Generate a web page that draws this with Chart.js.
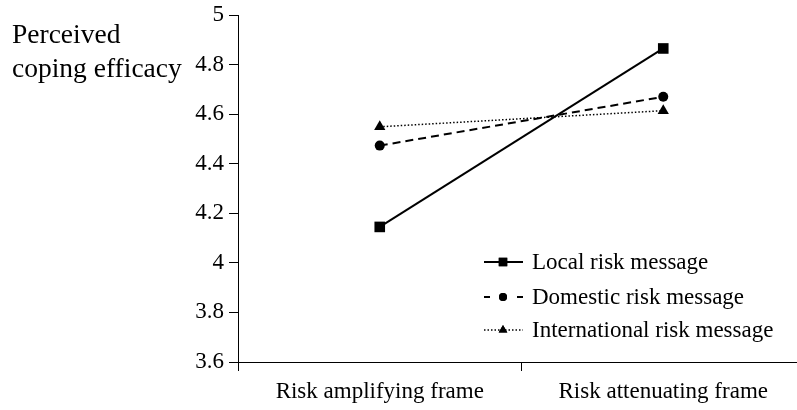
<!DOCTYPE html>
<html>
<head>
<meta charset="utf-8">
<script src="https://cdn.jsdelivr.net/npm/chart.js@4/dist/chart.umd.min.js"></script>
<style>
  html, body { margin: 0; padding: 0; background: #fff; overflow: hidden; }
  #wrap { width: 805px; height: 410px; position: relative; }
  canvas { width: 805px; height: 410px; }
</style>
</head>
<body>
<div id="wrap"><canvas id="c" width="805" height="410"></canvas></div>
<script>
// ---- Data ----
const categories = ['Risk amplifying frame', 'Risk attenuating frame'];
const seriesNames = ['Local risk message', 'Domestic risk message', 'International risk message'];
const localRisk = [4.145, 4.865];
const domesticRisk = [4.473, 4.670];
const internationalRisk = [4.549, 4.614];
const yMin = 3.6, yMax = 5, yStep = 0.2;
const yAxisTitle = ['Perceived', 'coping efficacy'];

const FONT = '"Liberation Serif", "Times New Roman", serif';

const styles = [
  { dash: [], width: 2, point: 'rect', radius: 7.5 },
  { dash: [8, 5], width: 2, point: 'circle', radius: 5 },
  { dash: [1.5, 2], width: 1.5, point: 'triangle', radius: 6.5 }
];
const seriesData = [localRisk, domesticRisk, internationalRisk];

const datasets = seriesData.map((d, i) => ({
  label: seriesNames[i],
  data: d,
  borderColor: '#000',
  backgroundColor: '#000',
  borderWidth: styles[i].width,
  borderDash: styles[i].dash,
  pointStyle: styles[i].point,
  pointRadius: styles[i].radius,
  pointHoverRadius: styles[i].radius,
  pointBackgroundColor: '#000',
  pointBorderColor: '#000',
  pointBorderWidth: 0,
  tension: 0,
  fill: false,
  clip: false
}));

const titlePlugin = {
  id: 'yTitle',
  afterDraw(chart) {
    const ctx = chart.ctx;
    ctx.save();
    ctx.fillStyle = '#000';
    ctx.font = '27.5px ' + FONT;
    ctx.textAlign = 'left';
    ctx.textBaseline = 'alphabetic';
    ctx.fillText(yAxisTitle[0], 12, 43);
    ctx.fillText(yAxisTitle[1], 12, 77);
    ctx.restore();
  }
};

const legendPlugin = {
  id: 'customLegend',
  afterDraw(chart) {
    const ctx = chart.ctx;
    const rows = [262, 297, 330];
    const x0 = 484, x1 = 523, xm = 503, tx = 532;
    chart.data.datasets.forEach((ds, i) => {
      const y = rows[i];
      ctx.save();
      ctx.strokeStyle = '#000';
      ctx.lineWidth = styles[i].width;
      if (i === 1) {
        ctx.setLineDash([]);
        ctx.beginPath();
        ctx.moveTo(x0, y); ctx.lineTo(x0 + 6, y);
        ctx.moveTo(x1 - 6, y); ctx.lineTo(x1, y);
        ctx.stroke();
      } else {
        ctx.setLineDash(styles[i].dash);
        ctx.beginPath();
        ctx.moveTo(x0, y); ctx.lineTo(x1, y);
        ctx.stroke();
      }
      ctx.setLineDash([]);
      ctx.fillStyle = '#000';
      const r = [6, 4, 5][i];
      Chart.helpers.drawPoint(ctx, { pointStyle: styles[i].point, radius: r, borderWidth: 0, rotation: 0 }, xm, y);
      ctx.fill();
      ctx.font = '23px ' + FONT;
      ctx.textAlign = 'left';
      ctx.textBaseline = 'middle';
      ctx.fillText(ds.label, tx, y + 1);
      ctx.restore();
    });
  }
};

new Chart(document.getElementById('c'), {
  type: 'line',
  data: { labels: categories, datasets },
  options: {
    responsive: false,
    animation: false,
    devicePixelRatio: 1,
    layout: { autoPadding: false, padding: { top: 15, right: 0, bottom: 0, left: 0 } },
    plugins: { legend: { display: false }, tooltip: { enabled: false } },
    scales: {
      x: {
        type: 'category',
        offset: true,
        grid: { display: true, offset: true, drawOnChartArea: false, drawTicks: true, tickLength: 9, color: '#000', lineWidth: 1 },
        border: { display: true, color: '#000', width: 1 },
        ticks: { color: '#000', font: { family: FONT, size: 23 }, padding: 7, maxRotation: 0, autoSkip: false },
        afterFit(scale) { scale.height = 48; scale.paddingLeft = 0; scale.paddingRight = 0; }
      },
      y: {
        min: yMin, max: yMax,
        grid: { display: true, drawOnChartArea: false, drawTicks: true, tickLength: 9, color: '#000', lineWidth: 1 },
        border: { display: true, color: '#000', width: 1 },
        ticks: {
          stepSize: yStep, color: '#000', font: { family: FONT, size: 23 }, padding: 5,
          callback: v => String(Number(v.toFixed(1)))
        },
        afterFit(scale) { scale.width = 238; scale.paddingTop = 0; scale.paddingBottom = 0; }
      }
    }
  },
  plugins: [titlePlugin, legendPlugin]
});
</script>
</body>
</html>
